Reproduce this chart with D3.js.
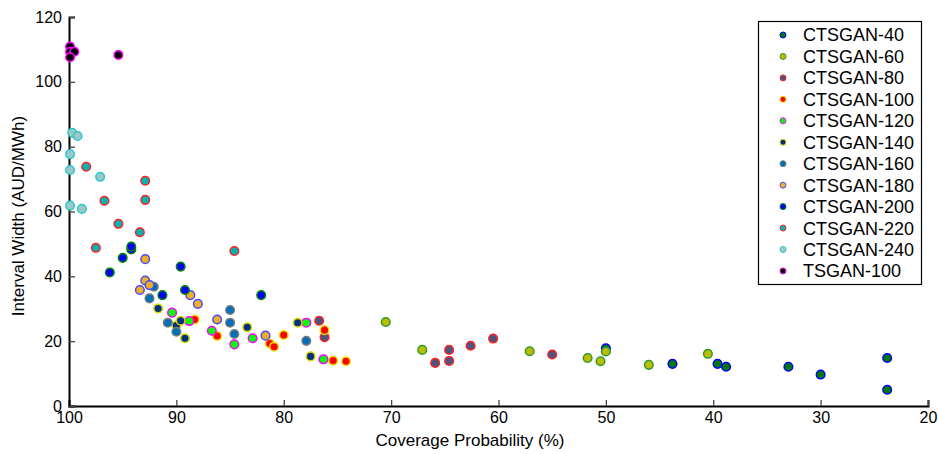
<!DOCTYPE html>
<html>
<head>
<meta charset="utf-8">
<script src="https://cdn.jsdelivr.net/npm/d3@7"></script>
<style>
  body { margin: 0; background: #fff; }
  svg { display: block; font-family: "Liberation Sans", Arial, sans-serif; }
</style>
</head>
<body>
<svg id="chart" width="938" height="454"></svg>
<script>
// ---- data: [coverage probability (%), interval width (AUD/MWh)] ----
const seriesNames = ["CTSGAN-40","CTSGAN-60","CTSGAN-80","CTSGAN-100","CTSGAN-120","CTSGAN-140",
                     "CTSGAN-160","CTSGAN-180","CTSGAN-200","CTSGAN-220","CTSGAN-240","TSGAN-100"];
const ctsgan40  = [[50.0,17.8],[43.8,13.0],[39.6,13.0],[38.8,12.1],[33.0,12.1],[30.0,9.7],[23.8,14.8],[23.8,5.0]];
const ctsgan60  = [[70.5,25.9],[67.1,17.3],[57.1,16.9],[51.7,14.8],[50.5,13.8],[50.0,16.8],[46.0,12.7],[40.5,16.1]];
const ctsgan80  = [[76.7,26.3],[76.2,21.2],[65.9,13.3],[64.6,17.3],[64.6,13.9],[62.6,18.6],[60.5,20.8],[55.0,15.9]];
const ctsgan100 = [[88.3,26.7],[86.2,21.6],[81.3,19.3],[80.9,18.3],[80.0,21.9],[76.2,23.4],[75.4,14.0],[74.2,13.8]];
const ctsgan120 = [[90.4,28.8],[88.8,26.2],[86.7,23.2],[84.6,19.0],[82.9,20.9],[77.9,25.7],[76.3,14.4]];
const ctsgan140 = [[91.7,30.1],[90.0,24.8],[89.6,26.3],[89.2,20.9],[83.4,24.3],[78.7,25.7],[77.5,15.3]];
const ctsgan160 = [[92.1,36.8],[92.5,33.2],[90.8,25.7],[90.0,22.9],[85.0,29.6],[85.0,25.7],[84.6,22.2],[77.9,20.1]];
const ctsgan180 = [[92.9,45.3],[92.9,38.7],[93.4,35.8],[92.5,37.3],[88.7,34.2],[88.0,31.5],[86.2,26.7],[81.7,21.7]];
const ctsgan200 = [[96.2,41.2],[95.0,45.7],[94.2,48.3],[94.2,49.2],[89.6,43.0],[91.3,34.2],[89.2,35.8],[82.1,34.2]];
const ctsgan220 = [[98.4,73.8],[92.9,69.5],[96.7,63.3],[92.9,63.6],[95.4,56.2],[93.4,53.6],[97.5,48.8],[84.6,47.8]];
const ctsgan240 = [[99.7,84.3],[99.2,83.3],[99.9,77.7],[99.9,72.8],[97.1,70.7],[99.9,61.8],[98.8,60.8]];
const tsgan100  = [[99.9,110.9],[99.9,109.3],[99.5,109.3],[99.9,107.6],[95.4,108.3]];
const seriesData = [ctsgan40, ctsgan60, ctsgan80, ctsgan100, ctsgan120, ctsgan140,
                    ctsgan160, ctsgan180, ctsgan200, ctsgan220, ctsgan240, tsgan100];
const xTicks = [100, 90, 80, 70, 60, 50, 40, 30, 20];
const yTicks = [0, 20, 40, 60, 80, 100, 120];
const xLabel = "Coverage Probability (%)";
const yLabel = "Interval Width (AUD/MWh)";

// ---- styles ----
const fillColors = ["#007a00","#bdbd00","#4b5580","#ff0000","#00ff00","#003080",
                    "#0070b8","#eeb020","#0000ff","#00b4b4","#9cc8c8","#000000"];
const edgeColors = ["#0000ff","#2e9a2e","#ff2020","#e8e000","#ff00ff","#d8d800",
                    "#7a7a7a","#4a4aff","#008800","#ff2020","#2cc8c8","#ff00ff"];

const svg = d3.select("#chart");
const x = d3.scaleLinear().domain([100, 20]).range([69, 928]);
const y = d3.scaleLinear().domain([0, 120]).range([406, 17]);

// axes
const xAxis = svg.append("g").attr("transform", "translate(0,406)")
  .call(d3.axisBottom(x).tickValues(xTicks).tickSize(-6).tickPadding(6).tickFormat(d3.format("d")));
const yAxis = svg.append("g").attr("transform", "translate(69,0)")
  .call(d3.axisLeft(y).tickValues(yTicks).tickSize(-6).tickPadding(7).tickFormat(d3.format("d")));
[xAxis, yAxis].forEach(g => {
  g.select(".domain").attr("stroke", "#000").attr("stroke-width", 2);
  g.selectAll(".tick line").attr("stroke", "#444").attr("stroke-width", 1.3);
  g.selectAll(".tick text").attr("fill", "#000").style("font-size", "16px");
});

// axis titles
svg.append("text").attr("x", 470).attr("y", 446).attr("text-anchor", "middle")
  .style("font-size", "17px").attr("fill", "#000").text(xLabel);
svg.append("text").attr("transform", "translate(24,216) rotate(-90)").attr("text-anchor", "middle")
  .style("font-size", "17px").attr("fill", "#000").text(yLabel);

// points
seriesData.forEach((pts, i) => {
  svg.append("g").selectAll("circle").data(pts).join("circle")
    .attr("cx", d => x(d[0])).attr("cy", d => y(d[1])).attr("r", 4.3)
    .attr("fill", fillColors[i]).attr("stroke", edgeColors[i]).attr("stroke-width", 1.5);
});

// legend
const lg = svg.append("g");
lg.append("rect").attr("x", 758.5).attr("y", 21.5).attr("width", 163).attr("height", 263)
  .attr("fill", "#fff").attr("stroke", "#000").attr("stroke-width", 1.2);
seriesNames.forEach((name, i) => {
  const cy = 35 + i * 21.45;
  lg.append("circle").attr("cx", 783).attr("cy", cy).attr("r", 3)
    .attr("fill", fillColors[i]).attr("stroke", edgeColors[i]).attr("stroke-width", 1);
  lg.append("text").attr("x", 803).attr("y", cy).attr("dy", "0.36em")
    .style("font-size", "18px").attr("fill", "#000").text(name);
});
</script>
</body>
</html>
